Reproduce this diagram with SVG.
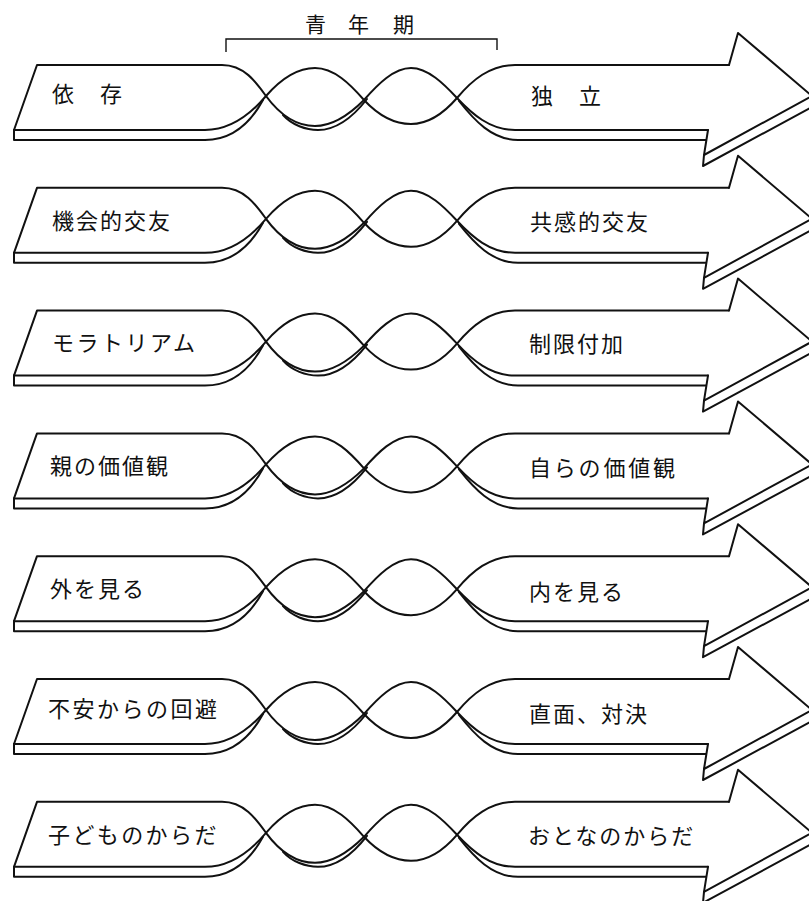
<svg xmlns="http://www.w3.org/2000/svg" xmlns:xlink="http://www.w3.org/1999/xlink" width="809" height="901" viewBox="0 0 809 901">
<style>
.ln{fill:none;stroke:#111;stroke-width:2;stroke-linejoin:round;stroke-linecap:round}
.thin{fill:none;stroke:#111;stroke-width:1.4}
.lbl{font-family:"Noto Sans CJK JP","Noto Sans CJK SC",sans-serif;font-size:22px;fill:#111;letter-spacing:2px}
.ttl{font-family:"Noto Sans CJK JP","Noto Sans CJK SC",sans-serif;font-size:21px;fill:#111}
</style>
<defs>
<g id="ribbon">
<path class="ln" d="M14,130 L37,65 L222,65 C244,65 256,82 266,96 C280,115 296,126 315,126 C334,126 350,114 364,100 C378,84 394,68 411,68 C428,68 444,84 457,98 C472,114 490,130 515,130 L708,130"/>
<path class="ln" d="M14,130 L205,130 C230,130 250,115 266,96 C280,80 296,68 315,68 C334,68 350,84 364,100 C378,115 394,124 411,124 C428,124 444,113 457,98 C472,80 490,65 515,65 L729,65"/>
<path class="ln" d="M14,130 L14,140 L205,140 C233,140 251,122 263,100"/>
<path class="ln" d="M283,115 C292,125 306,130 318,130 C337,130 353,117 367,99"/>
<path class="ln" d="M459,101 C474,120 492,140 518,140 L706,140"/>
<path class="ln" d="M729,65 L738,33 L812,96 L704,155 L708,130"/>
<path class="ln" d="M704,155 L703,166 L812,107"/>
</g>
</defs>
<g id="bracket">
<path class="thin" d="M226,52 L226,39 L497,39 L497,50"/>
<text class="ttl" x="305 348 393" y="32">青年期</text>
</g>
<g id="connectors"></g>
<g id="row1">
<use xlink:href="#ribbon"/>
<text class="lbl" x="52" y="102">依　存</text>
<text class="lbl" x="531" y="104">独　立</text>
</g>
<g id="row2" transform="translate(0,122.8)">
<use xlink:href="#ribbon"/>
<text class="lbl" x="52" y="106">機会的交友</text>
<text class="lbl" x="530" y="107">共感的交友</text>
</g>
<g id="row3" transform="translate(0,245.6)">
<use xlink:href="#ribbon"/>
<text class="lbl" x="52" y="105" style="letter-spacing:2.5px">モラトリアム</text>
<text class="lbl" x="529" y="106">制限付加</text>
</g>
<g id="row4" transform="translate(0,368.4)">
<use xlink:href="#ribbon"/>
<text class="lbl" x="50" y="106">親の価値観</text>
<text class="lbl" x="529" y="108" style="letter-spacing:2.8px">自らの価値観</text>
</g>
<g id="row5" transform="translate(0,491.2)">
<use xlink:href="#ribbon"/>
<text class="lbl" x="50" y="106">外を見る</text>
<text class="lbl" x="529" y="109">内を見る</text>
</g>
<g id="row6" transform="translate(0,614)">
<use xlink:href="#ribbon"/>
<text class="lbl" x="48" y="103" style="letter-spacing:2.5px">不安からの回避</text>
<text class="lbl" x="529" y="108">直面、対決</text>
</g>
<g id="row7" transform="translate(0,736.8)">
<use xlink:href="#ribbon"/>
<text class="lbl" x="48" y="106" style="letter-spacing:2.4px">子どものからだ</text>
<text class="lbl" x="528" y="107">おとなのからだ</text>
</g>
</svg>
